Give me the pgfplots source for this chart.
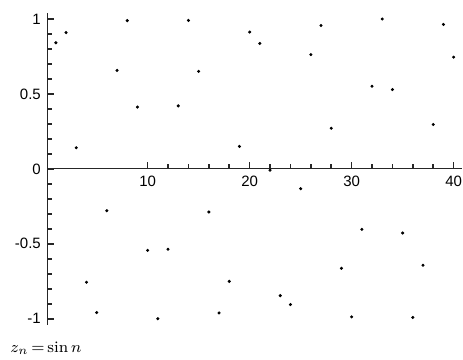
\documentclass[border=0pt]{standalone}
\usepackage{pgfplots}
\pgfplotsset{compat=1.18}
\usepackage{fontspec}
\newfontfamily\tickfont{Liberation Sans}
\begin{document}
\begin{tikzpicture}
\useasboundingbox (0,0) rectangle (231.5pt,180pt);
\begin{axis}[
  at={(23.95pt,17.65pt)}, anchor=south west,
  scale only axis, width=206.85pt, height=155.85pt,
  xmin=0.22, xmax=40.78, ymin=-1.04, ymax=1.04,
  axis y line=left, axis x line=middle,
  axis line style={-, line width=0.6pt, black!85},
  xtick={10,20,30,40}, minor x tick num=4,
  ytick={-1,-0.5,0,0.5,1}, yticklabels={-1,-0.5,0,0.5,1},
  minor y tick num=4,
  tick align=inside,
  major tick length=3.2pt, minor tick length=2.2pt,
  tick style={black!85, line width=0.8pt},
  ticklabel style={font=\tickfont\fontsize{7.5}{9}\selectfont},
  /pgf/number format/assume math mode=true,
  clip=false,
]
\addplot[only marks, mark=*, mark size=0.55pt, black] coordinates {
(1,0.8415) (2,0.9093) (3,0.1411) (4,-0.7568) (5,-0.9589) (6,-0.2794) (7,0.6570) (8,0.9894) (9,0.4121) (10,-0.5440)
(11,-1.0000) (12,-0.5366) (13,0.4202) (14,0.9906) (15,0.6503) (16,-0.2879) (17,-0.9614) (18,-0.7510) (19,0.1499) (20,0.9129)
(21,0.8367) (22,-0.0089) (23,-0.8462) (24,-0.9056) (25,-0.1324) (26,0.7626) (27,0.9564) (28,0.2709) (29,-0.6636) (30,-0.9880)
(31,-0.4040) (32,0.5514) (33,0.9999) (34,0.5291) (35,-0.4282) (36,-0.9918) (37,-0.6435) (38,0.2964) (39,0.9638) (40,0.7451)
};
\end{axis}
\node[anchor=west, inner sep=0pt, font=\fontsize{8}{9}\selectfont] at (5pt,6pt) {$z_n\,{=}\sin n$};
\end{tikzpicture}
\end{document}
